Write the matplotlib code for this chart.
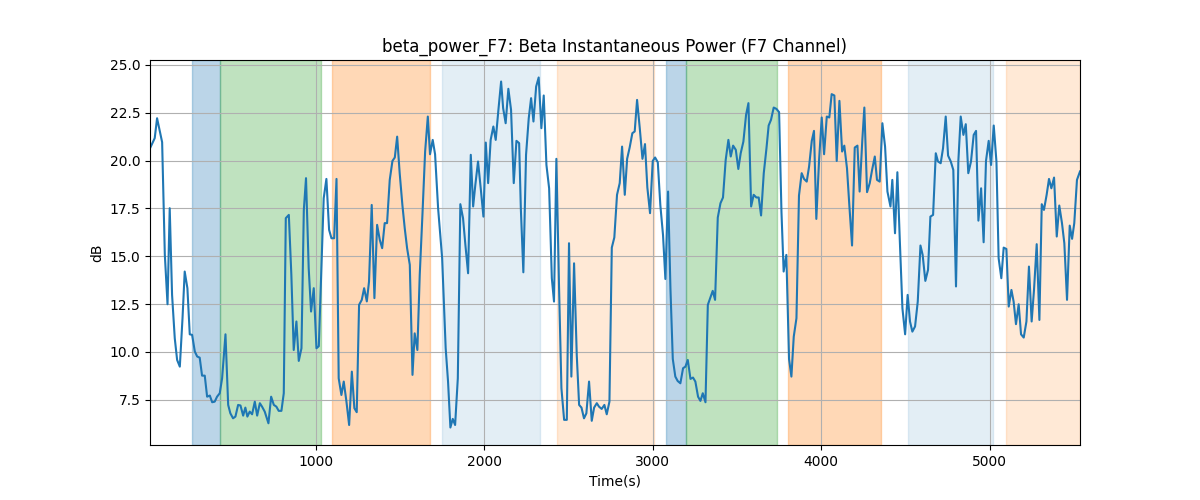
import matplotlib
import matplotlib.pyplot as plt

matplotlib.use('Agg')

# Beta power trace (time in s, power in dB)
times = [16, 44, 58, 88, 104, 120, 133, 147, 163, 177, 193, 209, 222, 238, 252, 266, 282, 296,
         311, 325, 341, 355, 371, 385, 400, 414, 430, 444, 464, 480, 493, 509, 523, 539, 553, 569,
         582, 594, 608, 622, 638, 652, 668, 681, 697, 711, 719, 735, 751, 766, 780, 796, 810, 822,
         840, 855, 869, 885, 899, 915, 929, 942, 958, 972, 988, 1004, 1018,
         1047, 1063, 1079, 1093, 1109, 1123, 1136, 1152, 1166, 1182, 1198, 1214, 1229, 1243, 1257,
         1273, 1287, 1303, 1316, 1332, 1348, 1364, 1380, 1394, 1409, 1423, 1439, 1455, 1469, 1483,
         1498, 1514, 1528, 1542, 1558, 1574, 1587, 1603, 1617, 1633, 1649, 1665, 1678, 1694, 1708,
         1726, 1750, 1771, 1785, 1799, 1813, 1827, 1843, 1858, 1874, 1888, 1904, 1920, 1934, 1947,
         1963, 1979, 1995, 2009, 2023, 2038, 2054, 2068, 2084, 2100, 2112, 2127, 2143, 2159, 2175,
         2191, 2207,
         2217, 2232, 2248, 2264, 2278, 2292, 2308, 2323, 2339, 2353, 2369, 2385, 2401, 2414, 2428,
         2444, 2458, 2474, 2490, 2503, 2517, 2533, 2549, 2563, 2577, 2592, 2606, 2622, 2638, 2652,
         2668, 2681, 2697, 2713, 2727, 2743, 2757, 2772, 2788, 2804, 2818, 2834, 2848, 2863, 2879,
         2893, 2907, 2923, 2939, 2954, 2968, 2984, 3000, 3014, 3030, 3045, 3061, 3075, 3091, 3105,
         3119, 3134, 3148, 3164,
         3180, 3194, 3208, 3224, 3239, 3253, 3269, 3283, 3297, 3313, 3327, 3342, 3356, 3370, 3386,
         3402, 3417, 3433, 3449, 3463, 3477, 3493, 3508, 3522, 3538, 3554, 3568, 3584, 3599, 3615,
         3629, 3643, 3659, 3675, 3688, 3702, 3718, 3734, 3750, 3764, 3777, 3793, 3809, 3823, 3837,
         3853, 3868, 3884, 3898, 3914, 3928, 3944, 3957, 3971, 3987, 4003, 4017, 4033, 4048, 4062,
         4078, 4092, 4108, 4124, 4137, 4153, 4167, 4183, 4199, 4215, 4228, 4244,
         4256, 4272, 4288, 4302, 4318, 4331, 4347, 4363, 4379, 4393, 4411, 4422, 4438, 4452, 4466,
         4482, 4498, 4513, 4527, 4541, 4557, 4573, 4589, 4602, 4618, 4634, 4648, 4664, 4680, 4693,
         4709, 4723, 4739, 4753, 4769, 4784, 4800, 4814, 4828, 4844, 4858, 4873, 4889, 4905, 4919,
         4933, 4949, 4964, 4978, 4994, 5008, 5024, 5040, 5053, 5069, 5083, 5099, 5113, 5129, 5142,
         5156, 5172, 5186, 5202, 5218, 5233, 5249, 5263, 5279, 5295, 5309, 5322, 5338, 5352, 5366,
         5382, 5398, 5413, 5429, 5443, 5459, 5475, 5489, 5502, 5518, 5536]

power_db = [20.64, 21.17, 22.21, 20.96, 15.07, 12.49, 17.51, 12.98, 10.71, 9.58, 9.23, 11.76, 14.2,
            13.33, 10.92, 10.89, 10.02, 9.76, 9.7, 8.76, 8.76, 7.66, 7.72, 7.37, 7.4, 7.66, 7.84,
            8.62, 10.92, 7.23, 6.79, 6.53, 6.62, 7.23, 7.2, 6.67, 7.09, 6.62, 6.88, 6.74, 7.4, 6.67,
            7.32, 7.14, 6.88, 6.5, 6.27, 7.66, 7.23, 7.14, 6.92, 6.92, 7.84, 16.99, 17.16, 14.02,
            10.1, 11.59, 9.53, 10.19, 17.42, 19.08, 14.37, 12.11, 13.33, 10.19, 10.3,
            18.03, 19.04, 16.38, 15.94, 15.94, 19.04, 8.62, 7.75, 8.45, 7.4, 6.18, 8.97, 7.06, 6.85,
            12.46, 12.72, 13.33, 12.64, 13.68, 17.68, 12.81, 16.64, 15.85, 15.42, 16.73, 16.73,
            18.99, 19.98, 20.16, 21.25, 19.34, 17.68, 16.46, 15.42, 14.55, 8.8, 10.97, 10.1, 14.02,
            17.16, 20.47, 22.3, 20.33, 21.08, 20.33, 17.51, 14.9, 10.19, 8.45, 6.05, 6.5, 6.18,
            8.62, 17.72, 16.99, 15.59, 14.11, 20.3, 17.6, 18.73, 19.95, 18.55, 17.07, 20.94, 18.82,
            21.08, 21.78, 21.08, 22.65, 24.13, 22.74, 21.95, 23.75, 22.65, 18.82, 21.03, 20.91,
            17.51, 14.16, 20.3, 22.21, 23.26, 22.04, 23.87, 24.34, 21.69, 23.4, 19.77, 18.55, 13.85,
            12.63, 20.09, 13.33, 8.1, 6.45, 6.45, 15.68, 8.71, 14.63, 9.84, 7.23, 7.09, 6.53, 6.79,
            8.45, 6.4, 7.09, 7.32, 7.14, 7.02, 7.23, 6.74, 7.4, 15.45, 15.98, 18.21, 18.82, 20.73,
            18.21, 20.09, 20.68, 21.43, 21.52, 23.17, 21.69, 20.09, 20.86, 18.59, 17.25, 19.98,
            20.16, 19.91, 17.68, 16.11, 13.81, 18.38, 13.33, 9.63, 8.71, 8.48, 8.36,
            9.15, 9.23, 9.58, 8.59, 8.66, 8.45, 7.66, 7.44, 7.84, 7.37, 12.46, 12.84, 13.19, 12.72,
            17.02, 17.77, 18.07, 20.03, 21.08, 20.21, 20.78, 20.56, 19.56, 20.38, 20.99, 22.39,
            23.0, 17.6, 18.21, 18.07, 18.07, 17.13, 19.34, 20.64, 21.83, 22.13, 22.77, 22.7, 22.53,
            17.33, 14.2, 15.07, 9.63, 8.71, 10.8, 11.76, 18.17, 19.34, 19.04, 18.9, 19.69, 21.03,
            21.55, 16.95, 19.98, 22.25, 20.33, 22.3, 22.25, 23.47, 23.4, 19.98, 23.12, 20.47, 20.78,
            19.59, 17.65, 15.56, 20.68, 20.78, 18.38, 21.08,
            22.77, 18.35, 18.82, 19.51, 20.21, 18.99, 18.9, 21.95, 20.73, 18.38, 17.6, 18.99, 16.2,
            19.39, 15.94, 12.28, 10.92, 12.98, 11.59, 11.06, 11.33, 12.63, 15.56, 15.07, 13.71,
            14.29, 17.07, 17.16, 20.38, 19.95, 19.86, 20.64, 22.3, 20.26, 19.95, 19.51, 13.42,
            19.98, 22.3, 21.34, 21.9, 19.34, 19.95, 21.34, 21.55, 16.86, 18.55, 15.73, 19.98, 21.03,
            19.77, 21.83, 19.95, 14.9, 13.85, 15.45, 15.38, 12.37, 13.24, 12.63, 11.45, 12.49,
            10.92, 10.75, 11.59, 14.46, 11.59, 13.24, 15.63, 11.67, 17.72, 17.42, 18.21, 19.04,
            18.55, 19.11, 16.03, 17.65, 16.73, 15.68, 12.72, 16.6, 15.91, 16.73, 18.99, 19.43]

# Shaded task phases
span_starts = [264, 430, 1099, 1748, 2432, 3077, 3198, 3801, 4515, 5095]
span_ends = [430, 1031, 1676, 2329, 3008, 3198, 3740, 4357, 5020, 5536]
span_colors = ["C0", "C2", "C1", "C0", "C1", "C0", "C2", "C1", "C0", "C1"]
span_alphas = [0.3, 0.3, 0.3, 0.12, 0.17, 0.3, 0.3, 0.3, 0.12, 0.17]

fig, ax = plt.subplots(figsize=(12, 5))

for s, e, c, a in zip(span_starts, span_ends, span_colors, span_alphas):
    ax.axvspan(s, e, color=c, alpha=a)

ax.plot(times, power_db, color="C0", linewidth=1.5)

ax.set_xlim(times[0], times[-1])
ax.set_title("beta_power_F7: Beta Instantaneous Power (F7 Channel)")
ax.set_xlabel("Time(s)")
ax.set_ylabel("dB")
ax.grid(True)

plt.savefig("out.png")
plt.close()
